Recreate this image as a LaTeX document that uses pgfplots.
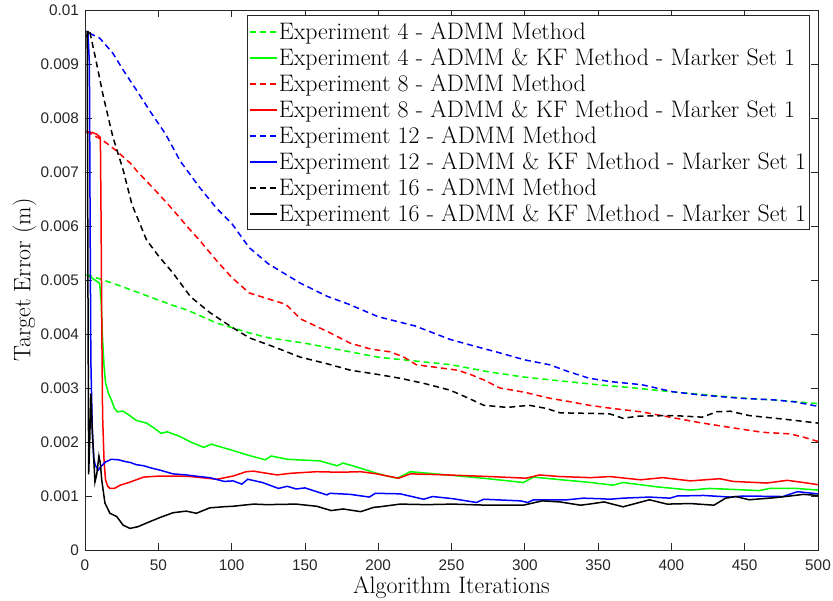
\documentclass[border=0pt]{standalone}
\usepackage{pgfplots}
\pgfplotsset{compat=1.18}
\usepackage{fontspec}
\newfontfamily\ticksans{Liberation Sans}

\definecolor{axgray}{rgb}{0.15,0.15,0.15}
\definecolor{mgreen}{rgb}{0,1,0}
\definecolor{mred}{rgb}{1,0,0}
\definecolor{mblue}{rgb}{0,0,1}

\begin{document}
\begin{tikzpicture}
\begin{axis}[
  scale only axis,
  width=549.75pt, height=405pt,
  xmin=0, xmax=500, ymin=0, ymax=0.01,
  xtick={0,50,100,150,200,250,300,350,400,450,500},
  ytick={0,0.001,0.002,0.003,0.004,0.005,0.006,0.007,0.008,0.009,0.01},
  yticklabels={0,0.001,0.002,0.003,0.004,0.005,0.006,0.007,0.008,0.009,0.01},
  scaled y ticks=false,
  tick pos=both,
  tick align=inside,
  major tick length=5.5pt,
  minor tick num=0,
  axis line style={draw=axgray, line width=0.6pt},
  every tick/.style={axgray, line width=0.6pt},
  tick label style={font=\fontsize{11.5}{13}\selectfont\ticksans, text=axgray},
  /pgf/number format/assume math mode=true,
  xticklabel style={yshift=-4pt},
  yticklabel style={xshift=-1pt},
  xlabel={Algorithm Iterations},
  ylabel={Target Error (m)},
  label style={font=\fontsize{17.9}{21}\selectfont},
  xlabel style={at={(axis description cs:0.5,-0.0802)}, anchor=base},
  ylabel style={at={(axis description cs:-0.0746,0.5)}, anchor=base},
  legend cell align=left,
  legend style={
    at={(axis description cs:0.989,0.9898)}, anchor=north east,
    draw=axgray, fill=white,
    font=\fontsize{17.9}{21}\selectfont,
    inner xsep=1.5pt, inner ysep=2.25pt,
    row sep=0pt,
    nodes={inner ysep=0pt, inner xsep=1.2pt, text height=15.5pt, text depth=4pt},
  },
  legend image code/.code={\draw[#1] (0pt,0pt) -- (20pt,0pt);},
  dashstyle/.style={dash pattern=on 4.5pt off 3pt},
]

% Experiment 4 - ADMM
\addplot[color=mgreen, line width=1.125pt, dashstyle] coordinates {
(1,0.00510)(10,0.00502)(20,0.00493)(30,0.00483)(40,0.00473)(50,0.00463)
(60,0.00453)(70,0.00444)(80,0.00432)(90,0.00420)(100,0.00412)(112,0.00402)
(125,0.00393)(150,0.00383)(175,0.00370)(200,0.00357)(225,0.00350)(250,0.00343)
(275,0.00330)(300,0.00320)(325,0.00313)(350,0.00306)(375,0.00300)(400,0.00293)
(425,0.00287)(450,0.00281)(475,0.00277)(500,0.00271)};

% Experiment 4 - ADMM & KF
\addplot[color=mgreen, line width=1.125pt] coordinates {
(1,0.00510)(5,0.00503)(10,0.00494)(11,0.00460)(12,0.00390)(13,0.00340)(14,0.00310)
(16,0.00290)(18,0.00278)(20,0.00263)(22,0.00256)(26,0.00257)(30,0.00250)(35,0.00240)
(42,0.00235)(47,0.00226)(52,0.00216)(56,0.00219)(65,0.00210)(72,0.00200)(81,0.00190)
(86,0.00196)(100,0.00185)(112,0.00175)(123,0.00167)(127,0.00174)(138,0.00168)
(160,0.00165)(172,0.00156)(176,0.00161)(185,0.00154)(199,0.00142)(206,0.00137)
(213,0.00133)(222,0.00145)(247,0.00139)(275,0.00132)(299,0.00125)(306,0.00135)
(325,0.00130)(345,0.00125)(360,0.00120)(367,0.00125)(390,0.00117)(413,0.00111)
(426,0.00114)(460,0.00110)(467,0.00114)(485,0.00114)(500,0.00111)};

% Experiment 8 - ADMM
\addplot[color=mred, line width=1.125pt, dashstyle] coordinates {
(1,0.00775)(10,0.00762)(15,0.00753)(22,0.00738)(31,0.00716)(36,0.00700)(50,0.00660)
(60,0.00630)(70,0.00598)(78,0.00574)(90,0.00535)(100,0.00505)(112,0.00476)
(125,0.00465)(137,0.00455)(147,0.00428)(165,0.00405)(181,0.00383)(195,0.00372)
(208,0.00367)(217,0.00358)(226,0.00343)(240,0.00338)(254,0.00333)(263,0.00325)
(272,0.00315)(283,0.00300)(300,0.00292)(317,0.00281)(330,0.00275)(344,0.00268)
(360,0.00262)(379,0.00256)(401,0.00245)(419,0.00236)(440,0.00227)(462,0.00218)
(481,0.00215)(490,0.00209)(500,0.00201)};

% Experiment 8 - ADMM & KF
\addplot[color=mred, line width=1.125pt] coordinates {
(1,0.00775)(5,0.00773)(8,0.00770)(10.5,0.00764)(11,0.00600)(11.5,0.00400)(12,0.00250)
(13,0.00165)(14,0.00130)(15.5,0.00118)(17,0.00114)(20,0.00114)(24,0.00120)(31,0.00126)
(40,0.00135)(51,0.00137)(64,0.00137)(72,0.00136)(90,0.00131)(101,0.00137)(110,0.00145)
(115,0.00146)(131,0.00139)(140,0.00142)(158,0.00145)(174,0.00144)(188,0.00145)
(199,0.00141)(208,0.00136)(214,0.00133)(222,0.00141)(247,0.00139)(276,0.00136)
(301,0.00133)(310,0.00139)(324,0.00136)(345,0.00134)(358,0.00136)(379,0.00130)
(394,0.00134)(413,0.00128)(433,0.00132)(442,0.00127)(465,0.00124)(479,0.00129)
(490,0.00125)(500,0.00121)};

% Experiment 12 - ADMM
\addplot[color=mblue, line width=1.125pt, dashstyle] coordinates {
(3,0.00957)(10,0.00948)(19,0.00920)(26,0.00889)(35,0.00852)(45,0.00810)(55,0.00770)
(65,0.00720)(78,0.00672)(90,0.00632)(100,0.00605)(112,0.00560)(125,0.00530)
(147,0.00494)(165,0.00470)(180,0.00455)(200,0.00432)(225,0.00415)(249,0.00390)
(265,0.00378)(283,0.00365)(300,0.00352)(317,0.00343)(330,0.00330)(344,0.00318)
(358,0.00312)(380,0.00306)(401,0.00293)(420,0.00287)(447,0.00281)(470,0.00278)
(485,0.00274)(500,0.00266)};

% Experiment 12 - ADMM & KF
\addplot[color=mblue, line width=1.125pt] coordinates {
(1,0.00960)(2,0.00960)(3,0.00900)(3.5,0.00600)(4,0.00350)(5,0.00220)(6,0.00170)
(7,0.00157)(9,0.00148)(11,0.00155)(14,0.00163)(18,0.00168)(23,0.00167)(27,0.00164)
(31,0.00162)(35,0.00158)(40,0.00156)(45,0.00152)(51,0.00148)(60,0.00141)(69,0.00139)
(78,0.00136)(85,0.00134)(95,0.00127)(101,0.00128)(107,0.00122)(111,0.00131)
(121,0.00125)(132,0.00114)(138,0.00118)(144,0.00113)(150,0.00115)(165,0.00102)
(167,0.00105)(181,0.00103)(194,0.00098)(198,0.00105)(215,0.00104)(231,0.00094)
(237,0.00099)(251,0.00095)(267,0.00088)(272,0.00094)(297,0.00091)(302,0.00088)
(306,0.00093)(329,0.00093)(340,0.00096)(351,0.00095)(358,0.00094)(367,0.00096)
(385,0.00098)(399,0.00096)(404,0.00100)(422,0.00101)(440,0.00098)(449,0.00100)
(476,0.00099)(486,0.00108)(500,0.00104)};

% Experiment 16 - ADMM
\addplot[color=black, line width=1.125pt, dashstyle] coordinates {
(1,0.00950)(3,0.00963)(7,0.00913)(12.5,0.00840)(19,0.00765)(26,0.00704)(32,0.00640)
(42,0.00574)(50,0.00545)(60,0.00513)(72,0.00469)(85,0.00440)(100,0.00413)
(112,0.00393)(130,0.00375)(147,0.00357)(165,0.00345)(181,0.00333)(200,0.00325)
(215,0.00318)(232,0.00308)(249,0.00296)(260,0.00283)(272,0.00268)(288,0.00264)
(303,0.00268)(315,0.00262)(324,0.00254)(344,0.00253)(358,0.00252)(367,0.00244)
(378,0.00248)(401,0.00249)(421,0.00246)(431,0.00256)(440,0.00257)(453,0.00249)
(481,0.00241)(500,0.00235)};

% Experiment 16 - ADMM & KF
\addplot[color=black, line width=1.125pt] coordinates {
(1,0.00960)(1.5,0.00960)(2,0.00500)(2.5,0.00140)(3.2,0.00200)(4,0.00290)(5,0.00220)
(6.8,0.00126)(8,0.00140)(9.5,0.00174)(10.5,0.00160)(11.4,0.00130)(13.6,0.00087)
(17,0.00068)(21.6,0.00062)(26,0.00046)(30.7,0.00040)(36,0.00043)(42,0.00050)
(51,0.00060)(60,0.00069)(69,0.00072)(76,0.00068)(85,0.00078)(94,0.00080)(101,0.00081)
(115,0.00085)(124,0.00084)(144,0.00085)(158,0.00081)(168,0.00073)(176,0.00076)
(188,0.00071)(197,0.00079)(201,0.00080)(215,0.00085)(233,0.00084)(251,0.00085)
(274,0.00083)(299,0.00083)(312,0.00091)(324,0.00089)(338,0.00083)(344,0.00085)
(354,0.00089)(367,0.00080)(385,0.00093)(397,0.00085)(413,0.00086)(429,0.00083)
(437,0.00096)(444,0.00099)(453,0.00093)(471,0.00097)(481,0.00100)(490,0.00103)
(500,0.00101)};

\legend{
Experiment 4 - ADMM Method,
Experiment 4 - ADMM \& KF Method - Marker Set 1,
Experiment 8 - ADMM Method,
Experiment 8 - ADMM \& KF Method - Marker Set 1,
Experiment 12 - ADMM Method,
Experiment 12 - ADMM \& KF Method - Marker Set 1,
Experiment 16 - ADMM Method,
Experiment 16 - ADMM \& KF Method - Marker Set 1}
\end{axis}
\pgfresetboundingbox
\path ([shift={(-63.75pt,-38.25pt)}]current axis.south west)
  rectangle ([shift={(11.25pt,7.5pt)}]current axis.north east);
\end{tikzpicture}
\end{document}
